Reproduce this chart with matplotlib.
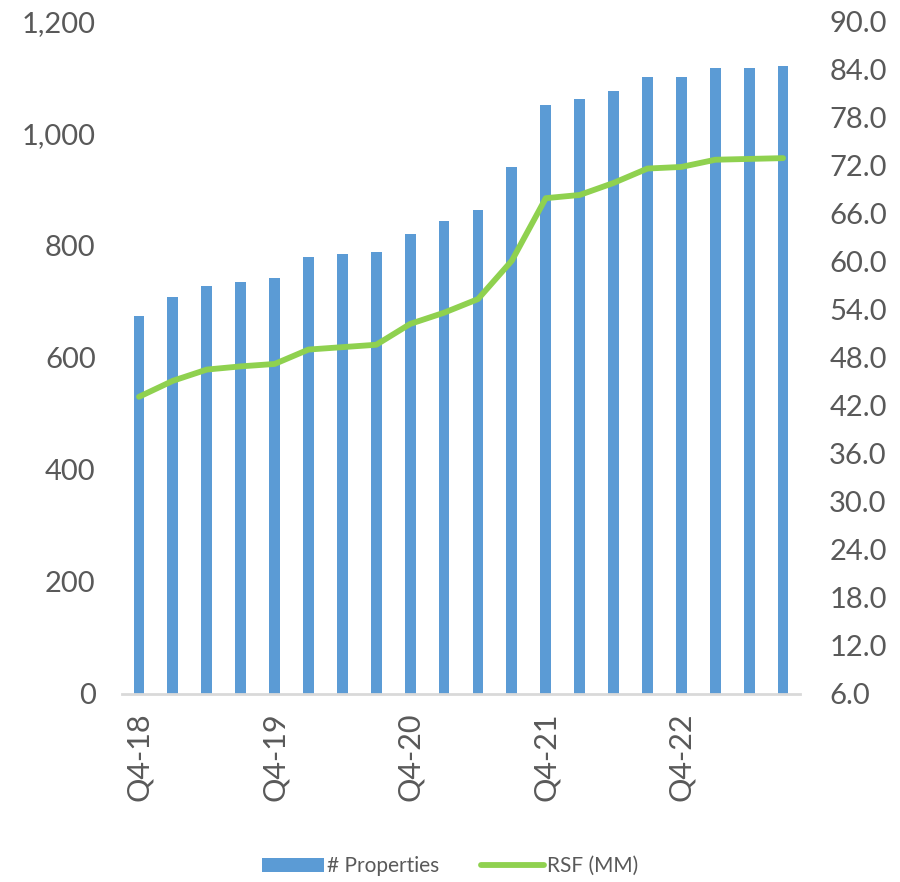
import matplotlib.pyplot as plt
import numpy as np

# ---------------------------------------------------
# Data
# ---------------------------------------------------
QUARTERS = [
    "Q4-18", "Q1-19", "Q2-19", "Q3-19",
    "Q4-19", "Q1-20", "Q2-20", "Q3-20",
    "Q4-20", "Q1-21", "Q2-21", "Q3-21",
    "Q4-21", "Q1-22", "Q2-22", "Q3-22",
    "Q4-22", "Q1-23", "Q2-23", "Q3-23",
]
PROPERTIES = [675, 708, 728, 735, 742, 780, 784, 788, 820, 843,
              864, 940, 1050, 1062, 1076, 1100, 1101, 1117, 1117, 1120]
RSF_MM = [43.1, 45.1, 46.5, 46.9, 47.2, 49.0, 49.3, 49.6, 52.2, 53.6,
          55.3, 60.1, 67.9, 68.3, 69.8, 71.6, 71.8, 72.7, 72.8, 72.9]
SHOWN_LABELS = ["Q4-18", "Q4-19", "Q4-20", "Q4-21", "Q4-22"]

BAR_COLOR = "#5B9BD5"
LINE_COLOR = "#8FD14F"
TEXT_COLOR = "#595959"

plt.rcParams["font.family"] = ["Lato", "DejaVu Sans"]


def main():
    fig = plt.figure(figsize=(9, 8.82), dpi=100)
    ax = fig.add_axes([0.1356, 0.2132, 0.7533, 0.7628])
    ax2 = ax.twinx()

    x = np.arange(len(QUARTERS))
    ax.bar(x, PROPERTIES, width=0.32, color=BAR_COLOR, label="# Properties", zorder=2)
    ax2.plot(x, RSF_MM, color=LINE_COLOR, linewidth=4.2, solid_capstyle="round",
             label="RSF (MM)", zorder=3)

    ax.set_xlim(-0.5, len(QUARTERS) - 0.5)
    ax.set_ylim(0, 1200)
    ax.set_yticks(range(0, 1201, 200))
    ax.set_yticklabels([f"{v:,}" for v in range(0, 1201, 200)])
    ax2.set_ylim(6, 90)
    ax2.set_yticks(np.arange(6, 91, 6))
    ax2.set_yticklabels([f"{v:.1f}" for v in np.arange(6, 91, 6)])

    ticks = [QUARTERS.index(q) for q in SHOWN_LABELS]
    ax.set_xticks(ticks)
    ax.set_xticklabels(SHOWN_LABELS, rotation=90)

    for a in (ax, ax2):
        for s in ("top", "left", "right", "bottom"):
            a.spines[s].set_visible(False)
        a.tick_params(length=0, labelsize=21, colors=TEXT_COLOR)
    ax.tick_params(axis="y", pad=19)
    ax2.tick_params(axis="y", pad=21)
    ax.tick_params(axis="x", pad=13, labelsize=22)
    ax.spines["bottom"].set_visible(True)
    ax.spines["bottom"].set_color("#D9D9D9")
    ax.spines["bottom"].set_linewidth(2)

    h1, l1 = ax.get_legend_handles_labels()
    h2, l2 = ax2.get_legend_handles_labels()
    fig.legend(h1 + h2, l1 + l2, loc="center", bbox_to_anchor=(0.5, 0.018),
               ncol=2, frameon=False, fontsize=15, labelcolor=TEXT_COLOR,
               handlelength=3.0, handletextpad=0.15, columnspacing=2.0)

    fig.savefig("out.png", dpi=100)


if __name__ == "__main__":
    main()
